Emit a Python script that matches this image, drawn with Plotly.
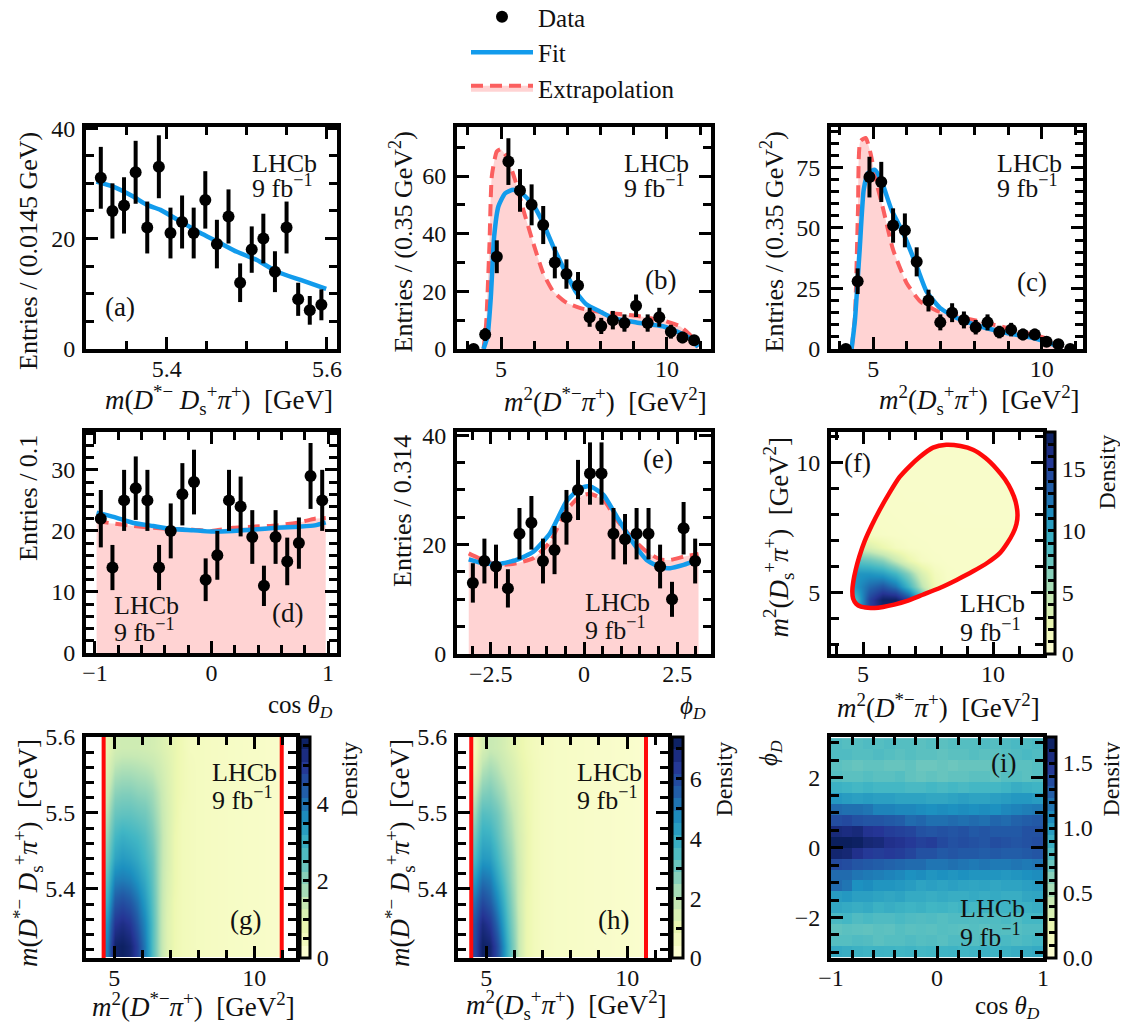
import plotly.graph_objects as go

PAGE = 8  # default page margin of the written html
W, H = 1128 - PAGE, 1023 - PAGE
FONT = "Liberation Serif"

# ---------- 1D data ----------
a_x = [5.3175, 5.332, 5.3465, 5.361, 5.3755, 5.39, 5.4045, 5.419, 5.4335, 5.448, 5.4625, 5.477, 5.4915, 5.506, 5.5205, 5.535, 5.5495, 5.564, 5.5785, 5.593]
a_y = [31, 25, 26, 32, 22, 33, 21, 23, 21, 27, 19, 24, 12, 18, 20, 14, 22, 9, 7, 8]
a_e = [5.6, 5, 5.1, 5.7, 4.7, 5.7, 4.6, 4.8, 4.6, 5.2, 4.4, 4.9, 3.5, 4.2, 4.5, 3.7, 4.7, 3, 2.6, 2.8]
a_fit_x = [5.312, 5.333, 5.358, 5.375, 5.392, 5.417, 5.442, 5.4625, 5.4875, 5.5125, 5.5375, 5.567, 5.599]
a_fit_y = [30.3, 29.4, 27.6, 26.1, 25.2, 23.1, 21, 19.5, 17.6, 16.1, 14, 12.5, 10.9]

b_x = [4.17, 4.52, 4.87, 5.22, 5.57, 5.92, 6.27, 6.62, 6.97, 7.32, 7.67, 8.02, 8.37, 8.72, 9.07, 9.42, 9.77, 10.12, 10.47, 10.82]
b_y = [0, 5, 32, 65, 55, 50, 43, 30, 26, 22, 11, 8, 10, 9, 15, 9, 11, 6, 4, 3]
b_e = [0, 2.2, 5.7, 8.1, 7.4, 7.1, 6.6, 5.5, 5.1, 4.7, 3.3, 2.8, 3.2, 3, 3.9, 3, 3.3, 2.4, 2, 1.7]
b_fit_x = [4.47, 4.59, 4.69, 4.79, 4.92, 5.12, 5.37, 5.67, 5.97, 6.27, 6.57, 6.98, 7.28, 7.58, 7.98, 8.38, 9.08, 9.88, 10.29, 10.69, 10.94]
b_fit_y = [0, 4.4, 18, 39, 49.5, 54, 55.2, 53.5, 50, 43.6, 35.6, 25.8, 19.4, 15.4, 13, 10.7, 9.2, 7.9, 6.1, 3.8, 0.7]
b_ext_x = [4.47, 4.55, 4.65, 4.72, 4.87, 4.99, 5.17, 5.42, 5.67, 5.97, 6.27, 6.57, 6.98, 7.48, 8.08, 9.08, 9.88, 10.39, 10.69, 10.94]
b_ext_y = [0, 9, 36.7, 60, 68.5, 69.3, 66.7, 58.7, 48.3, 36.7, 26.3, 20, 16, 13.9, 12.7, 11.5, 9.9, 7.9, 5, 0.7]

c_x = [4.19, 4.54, 4.89, 5.24, 5.59, 5.94, 6.29, 6.64, 6.99, 7.34, 7.69, 8.04, 8.39, 8.74, 9.09, 9.44, 9.79, 10.14, 10.49, 10.84]
c_y = [0, 28, 71, 69, 51, 49, 36, 20, 11, 15, 12, 9, 11, 7, 8, 6, 6, 3, 2, 0]
c_e = [0, 5.3, 8.4, 8.3, 7.1, 7, 6, 4.5, 3.3, 3.9, 3.5, 3, 3.3, 2.6, 2.8, 2.4, 2.4, 1.7, 1.4, 0]
c_fit_x = [4.36, 4.46, 4.6, 4.72, 4.85, 5.05, 5.25, 5.54, 5.89, 6.29, 6.58, 6.98, 7.48, 8.17, 8.96, 9.75, 10.35, 10.6]
c_fit_y = [0, 12, 41, 65.8, 72.7, 74, 69.3, 57.6, 47.9, 34.2, 23.8, 17, 12.8, 9.4, 6.6, 4.5, 1.8, 0]
c_ext_x = [4.36, 4.46, 4.55, 4.62, 4.78, 4.92, 5.1, 5.3, 5.59, 5.99, 6.39, 6.88, 7.48, 8.17, 8.96, 9.75, 10.35, 10.6]
c_ext_y = [0, 13.5, 57.6, 85.8, 87.2, 81, 68.6, 57.6, 41, 27.3, 19.7, 15.8, 13.5, 11.4, 8.7, 5.9, 3.2, 0]

d_x = [-0.95, -0.85, -0.75, -0.65, -0.55, -0.45, -0.35, -0.25, -0.15, -0.05, 0.05, 0.15, 0.25, 0.35, 0.45, 0.55, 0.65, 0.75, 0.85, 0.95]
d_y = [22, 14, 25, 27, 25, 14, 20, 26, 28, 12, 16, 25, 24, 19, 11, 19, 15, 18, 29, 25]
d_e = [4.7, 3.7, 5, 5.2, 5, 3.7, 4.5, 5.1, 5.3, 3.5, 4, 5, 4.9, 4.4, 3.3, 4.4, 3.9, 4.2, 5.4, 5]
d_fit_x = [-0.986, -0.84, -0.67, -0.5, -0.33, -0.157, 0, 0.186, 0.357, 0.557, 0.757, 0.886, 0.98]
d_fit_y = [23, 22.3, 21.3, 20.8, 20.3, 20.1, 19.9, 20, 20.2, 20.5, 20.7, 20.9, 21.4]
d_ext_y = [21.6, 21.2, 20.8, 20.5, 20.3, 20.2, 20, 20.5, 20.7, 20.9, 21.4, 22, 22.1]

e_x = [-2.98, -2.67, -2.36, -2.04, -1.73, -1.41, -1.10, -0.79, -0.47, -0.16, 0.16, 0.47, 0.79, 1.10, 1.41, 1.73, 2.04, 2.36, 2.67, 2.98]
e_y = [13, 17, 16, 12, 22, 24, 17, 19, 25, 30, 33, 33, 22, 21, 22, 22, 16, 10, 23, 17]
e_e = [3.6, 4.1, 4, 3.5, 4.7, 4.9, 4.1, 4.4, 5, 5.5, 5.7, 5.7, 4.7, 4.6, 4.7, 4.7, 4, 3.2, 4.8, 4.1]
e_fit_x = [-3.09, -2.71, -2.26, -1.81, -1.36, -0.91, -0.47, -0.11, 0.16, 0.52, 0.88, 1.33, 1.68, 2.04, 2.31, 2.67, 3.07]
e_fit_y = [17.3, 16.6, 16.5, 17.2, 18.7, 22.1, 27.9, 30.3, 30.7, 29.1, 25.1, 20.2, 17.2, 15.9, 15.7, 16.3, 17.2]
e_ext_y = [18.4, 17.2, 16.3, 16.6, 17.5, 20.5, 26.3, 28.8, 29.3, 28.2, 24.5, 20.9, 18.7, 17.3, 17.2, 17.8, 18.3]

# ---------- 2D data ----------
f_bnd_x = [8.2, 8.75, 9.23, 9.7, 10.13, 10.45, 10.7, 10.87, 10.94, 10.9, 10.77, 10.55, 10.26, 9.8, 9.23, 8.6, 7.95, 7.3, 6.67, 6.2, 5.77, 5.45, 5.19, 4.92, 4.74, 4.62, 4.59, 4.63, 4.72, 4.86, 5.06, 5.33, 5.64, 6.0, 6.41, 6.8, 7.18, 7.69, 8.2]
f_bnd_y = [10.7, 10.65, 10.51, 10.2, 9.78, 9.38, 8.95, 8.5, 8.0, 7.65, 7.3, 6.92, 6.53, 6.17, 5.83, 5.5, 5.19, 4.93, 4.68, 4.55, 4.46, 4.42, 4.43, 4.47, 4.58, 4.78, 5.06, 5.45, 5.89, 6.4, 6.98, 7.58, 8.19, 8.82, 9.46, 9.88, 10.23, 10.59, 10.7]
f_z = [
    [6, 10, 15, 17, 17, 13, 6, 1.8, 1.1, .9, .9, .9, .9, .9, .9],
    [8, 9, 15, 17.5, 17.5, 15, 9, 3, 1.1, .9, .9, .9, .9, .9, .9],
    [10, 11, 13, 14, 12.5, 9, 5, 2, 1.0, .9, .9, .9, .9, .9, .9],
    [11, 11, 11, 10.5, 9, 6.5, 3.5, 1.6, 1.0, .9, .9, .9, .9, .9, .9],
    [9, 8, 7.5, 6.5, 4.5, 2.5, 1.3, 1.0, .9, .9, .9, .9, .9, .9, .9],
    [5, 4, 3.5, 2.4, 1.5, 1.1, 1.0, .9, .9, .9, .9, .9, .9, .9, .9],
    [1.7, 1.5, 1.3, 1.1, 1.0, .95, .9, .9, .9, .9, .9, .9, .9, .9, .9],
    [1.1, 1.1, 1.0, 1.0, .95, .9, .9, .9, .9, .85, .85, .85, .85, .85, .85],
    [1.0, 1.0, .95, .95, .9, .9, .9, .85, .85, .85, .85, .85, .85, .85, .85],
    [.9, .9, .9, .9, .9, .85, .85, .85, .85, .85, .85, .85, .85, .85, .85],
    [.9, .9, .9, .85, .85, .85, .85, .85, .85, .85, .85, .85, .85, .85, .85],
    [.85, .85, .85, .85, .85, .85, .85, .85, .85, .85, .85, .85, .85, .85, .85],
    [.85, .85, .85, .85, .85, .85, .85, .85, .85, .85, .85, .85, .85, .85, .85],
    [.85, .85, .85, .85, .85, .85, .85, .85, .85, .85, .85, .85, .85, .85, .85],
]
g_limits = [4.62, 10.98]
h_limits = [4.47, 10.67]
tail_z = [.45, .42, .4, .38, .36, .35, .34, .33, .32, .3, .28, .25]
g_left = [
    [3.8, 5.5, 5.6, 5.4, 4.8, 3.9, 2.7, 1.7, 1.0, .7, .55, .5],
    [3.5, 5.0, 5.2, 5.0, 4.4, 3.7, 2.7, 1.7, 1.0, .7, .55, .5],
    [3.0, 4.4, 4.6, 4.4, 4.0, 3.4, 2.6, 1.7, 1.05, .7, .55, .5],
    [2.6, 3.8, 3.9, 3.8, 3.5, 3.1, 2.5, 1.7, 1.1, .75, .55, .5],
    [2.2, 3.2, 3.4, 3.3, 3.1, 2.8, 2.4, 1.7, 1.15, .75, .55, .5],
    [1.9, 2.8, 3.0, 2.9, 2.8, 2.6, 2.2, 1.7, 1.15, .75, .55, .5],
    [1.6, 2.4, 2.5, 2.5, 2.4, 2.3, 2.0, 1.6, 1.15, .8, .55, .5],
    [1.3, 2.0, 2.1, 2.1, 2.0, 1.95, 1.8, 1.5, 1.1, .8, .6, .5],
    [1.0, 1.6, 1.7, 1.7, 1.65, 1.6, 1.5, 1.3, 1.05, .8, .6, .5],
    [.8, 1.2, 1.3, 1.3, 1.3, 1.25, 1.2, 1.1, .95, .8, .6, .45],
]
h_left = [
    [6.0, 7.2, 7.0, 6.0, 4.6, 3.1, 1.8, 1.0, .7, .55, .5, .45],
    [5.8, 6.8, 6.4, 5.4, 4.2, 2.9, 1.8, 1.0, .7, .55, .5, .45],
    [5.2, 6.0, 5.6, 4.8, 3.8, 2.7, 1.7, 1.0, .7, .55, .5, .45],
    [4.4, 5.2, 5.0, 4.2, 3.4, 2.5, 1.7, 1.05, .7, .55, .5, .45],
    [3.6, 4.4, 4.3, 3.7, 3.0, 2.4, 1.6, 1.05, .7, .55, .5, .45],
    [3.0, 3.9, 3.8, 3.3, 2.7, 2.2, 1.5, 1.05, .7, .55, .5, .45],
    [2.4, 3.4, 3.3, 3.0, 2.5, 2.0, 1.4, 1.0, .7, .55, .5, .45],
    [1.8, 2.7, 2.8, 2.5, 2.2, 1.7, 1.3, .95, .7, .55, .5, .45],
    [1.0, 2.1, 2.3, 2.1, 1.8, 1.5, 1.15, .9, .7, .55, .5, .45],
    [.6, 1.5, 1.8, 1.7, 1.5, 1.25, 1.0, .8, .65, .55, .5, .45],
]
i_z = [
    [.92, .90, .88, .86, .87, .86, .85, .86, .84, .85, .86, .87, .85, .86, .88, .87, .88, .90, .90, .92],
    [.78, .78, .80, .79, .76, .78, .78, .80, .78, .79, .77, .80, .80, .78, .80, .79, .82, .80, .82, .84],
    [.74, .76, .75, .74, .76, .75, .78, .76, .77, .76, .78, .77, .76, .78, .76, .79, .78, .78, .80, .80],
    [.82, .84, .80, .82, .80, .80, .82, .80, .79, .80, .78, .80, .80, .79, .80, .80, .82, .80, .84, .84],
    [.94, .92, .90, .92, .88, .90, .88, .86, .88, .85, .86, .84, .86, .84, .86, .85, .86, .88, .88, .90],
    [1.00, 1.02, .98, .98, .96, .94, .96, .92, .92, .90, .92, .90, .90, .92, .90, .92, .90, .90, .94, .95],
    [1.22, 1.18, 1.06, 1.08, 1.04, 1.04, 1.02, 1.00, .96, .98, .96, .98, .96, .95, .96, .94, .96, .96, .98, 1.00],
    [1.22, 1.22, 1.18, 1.16, 1.14, 1.12, 1.10, 1.06, 1.08, 1.04, 1.06, 1.04, 1.06, 1.04, 1.04, 1.04, 1.02, 1.04, 1.06, 1.08],
    [1.38, 1.36, 1.32, 1.30, 1.28, 1.26, 1.24, 1.22, 1.22, 1.18, 1.18, 1.20, 1.18, 1.16, 1.18, 1.16, 1.16, 1.18, 1.16, 1.18],
    [1.62, 1.60, 1.52, 1.46, 1.44, 1.46, 1.44, 1.40, 1.34, 1.34, 1.30, 1.32, 1.30, 1.30, 1.28, 1.30, 1.28, 1.28, 1.30, 1.32],
    [1.68, 1.68, 1.66, 1.60, 1.58, 1.52, 1.50, 1.46, 1.42, 1.44, 1.38, 1.34, 1.36, 1.34, 1.32, 1.36, 1.34, 1.32, 1.34, 1.36],
    [1.58, 1.56, 1.58, 1.50, 1.48, 1.44, 1.42, 1.40, 1.34, 1.32, 1.34, 1.32, 1.34, 1.30, 1.32, 1.30, 1.30, 1.30, 1.34, 1.34],
    [1.36, 1.38, 1.34, 1.32, 1.32, 1.30, 1.28, 1.22, 1.24, 1.20, 1.20, 1.22, 1.20, 1.22, 1.20, 1.24, 1.22, 1.26, 1.28, 1.30],
    [1.22, 1.20, 1.20, 1.18, 1.12, 1.12, 1.10, 1.10, 1.08, 1.06, 1.08, 1.06, 1.08, 1.06, 1.08, 1.06, 1.10, 1.12, 1.14, 1.16],
    [1.02, 1.00, .98, 1.00, .98, .98, .96, .96, .96, .94, .94, .96, .98, .96, .96, .98, 1.00, 1.02, 1.02, 1.00],
    [.88, .86, .84, .86, .84, .84, .84, .82, .82, .84, .82, .84, .82, .84, .84, .84, .86, .90, .88, .86],
    [.78, .76, .76, .78, .76, .76, .78, .74, .72, .74, .72, .74, .74, .76, .76, .74, .78, .78, .76, .78],
    [.76, .74, .72, .74, .74, .72, .72, .74, .70, .70, .72, .70, .72, .72, .72, .74, .74, .76, .76, .78],
    [.80, .80, .78, .78, .80, .78, .76, .78, .76, .76, .74, .76, .76, .78, .76, .76, .78, .80, .82, .80],
    [.80, .78, .78, .80, .78, .80, .78, .78, .76, .78, .76, .78, .78, .78, .80, .78, .80, .82, .80, .82],
]

# ---------- axis text ----------
XLABELS = {
    "a": "<i>m</i>(<i>D</i><sup>*−</sup> <i>D</i><sub>s</sub><sup>+</sup><i>π</i><sup>+</sup>)  [GeV]",
    "b": "<i>m</i><sup>2</sup>(<i>D</i><sup>*−</sup><i>π</i><sup>+</sup>)  [GeV<sup>2</sup>]",
    "c": "<i>m</i><sup>2</sup>(<i>D</i><sub>s</sub><sup>+</sup><i>π</i><sup>+</sup>)  [GeV<sup>2</sup>]",
    "d": "cos <i>θ<sub>D</sub></i>",
    "e": "<i>ϕ<sub>D</sub></i>",
}
XLABELS.update({"f": XLABELS["b"], "g": XLABELS["b"], "h": XLABELS["c"], "i": XLABELS["d"]})
YLABELS = {
    "a": "Entries / (0.0145 GeV)",
    "b": "Entries / (0.35 GeV<sup>2</sup>)",
    "c": "Entries / (0.35 GeV<sup>2</sup>)",
    "d": "Entries / 0.1",
    "e": "Entries / 0.314",
    "f": XLABELS["c"],
    "g": XLABELS["a"],
    "h": XLABELS["a"],
    "i": XLABELS["e"],
}

# ---------- geometry (page pixels) and axis settings ----------
P = {
    "a": dict(box=(86, 337, 127, 349), xr=(5.299, 5.6125), yr=(0, 40.2), xt=(5.4, 0.2, 0.05), yt=(0, 20, 5),
              xl=(335, 400), yl=(28, 130), lhcb=(250, 163, 187), tag=(120, 307)),
    "b": dict(box=(457, 711, 127, 349), xr=(3.67, 11.33), yr=(0, 77), xt=(5, 5, 1), yt=(0, 20, 10),
              xl=(709, 400), yl=(402, 130), lhcb=(622, 163, 187), tag=(660, 280)),
    "c": dict(box=(831, 1083, 127, 349), xr=(3.75, 11.22), yr=(0, 91.7), xt=(5, 5, 1), yt=(0, 25, 5),
              xl=(1082, 400), yl=(773, 130), lhcb=(995, 163, 187), tag=(1032, 282)),
    "d": dict(box=(86, 337, 432, 653), xr=(-1.077, 1.077), yr=(0, 36.2), xt=(-1, 1, 0.2), yt=(0, 10, 2),
              xl=(335, 706), yl=(28, 433), lhcb=(112, 605, 630), tag=(287, 613)),
    "e": dict(box=(457, 711, 432, 654), xr=(-3.405, 3.405), yr=(0, 40.6), xt=(-2.5, 2.5, 0.5), yt=(0, 20, 5),
              xl=(708, 707), yl=(402, 433), lhcb=(583, 602, 628), tag=(658, 459)),
    "f": dict(box=(831, 1043, 432, 654), xr=(3.77, 11.92), yr=(2.65, 11.19), xt=(5, 5, 1), yt=(5, 5, 1),
              xl=(1042, 706), yl=(778, 435), lhcb=(958, 603, 630), tag=(857, 463),
              cb=(1045, 1055), cbt=(0, 18, 1, 5), dens=(1106, 433)),
    "g": dict(box=(86, 296, 737, 958), xr=(3.99, 11.49), yr=(5.309, 5.6), xt=(5, 5, 1), yt=(5.4, 0.1, 0.02),
              xl=(297, 1005), yl=(28, 737), lhcb=(210, 772, 798), tag=(245, 920),
              cb=(300, 310), cbt=(0, 5.73, 0.5, 2), dens=(348, 740)),
    "h": dict(box=(458, 668, 737, 958), xr=(4.0, 11.45), yr=(5.309, 5.6), xt=(5, 5, 1), yt=(5.4, 0.1, 0.02),
              xl=(669, 1005), yl=(400, 737), lhcb=(575, 772, 798), tag=(613, 920),
              cb=(672, 683), cbt=(0, 7.39, 1, 2), dens=(723, 740)),
    "i": dict(box=(831, 1043, 737, 958), xr=(-1, 1), yr=(-3.16, 3.17), xt=(-1, 1, 0.2), yt=(-2, 2, 0.5),
              xl=(1042, 1007), yl=(770, 738), lhcb=(958, 908, 935), tag=(1003, 763),
              cb=(1046, 1056), cbt=(0, 1.7, 0.1, 0.5), dens=(1110, 740)),
}
BLUE, RED, PINK = "#129BEC", "#FB5F5F", "#FFD3D3"
ANCH = ["#ffffd9", "#edf8b1", "#c7e9b4", "#7fcdbb", "#41b6c4", "#1d91c0", "#225ea8", "#253494", "#081d58"]
LEVELS = 18


def hex2rgb(s):
    return tuple(int(s[i:i + 2], 16) for i in (1, 3, 5))


def cmap(t):
    u = t * (len(ANCH) - 1)
    k = min(int(u), len(ANCH) - 2)
    f = u - k
    a, b = hex2rgb(ANCH[k]), hex2rgb(ANCH[k + 1])
    return "rgb(%d,%d,%d)" % tuple(round(a[j] + (b[j] - a[j]) * f) for j in range(3))


STEPS = []
for n in range(LEVELS):
    col = cmap((n + 0.5) / LEVELS)
    STEPS += [[n / LEVELS, col], [(n + 1) / LEVELS, col]]
SMOOTH = [[k / (len(ANCH) - 1), c] for k, c in enumerate(ANCH)]


def fx(x):
    return (x - PAGE) / W


def fy(y):
    return 1 - (y - PAGE) / H


fig = go.Figure()
annotations = []
layout = {}


def note(text, x, y, xa="center", ya="middle", angle=0, size=25):
    annotations.append(dict(text=text, x=fx(x), y=fy(y), xref="paper", yref="paper", xanchor=xa, yanchor=ya,
                            textangle=angle, showarrow=False, font=dict(family=FONT, size=size, color="#111"),
                            align="left"))


for idx, (key, p) in enumerate(P.items()):
    n = idx + 1
    l, r, t, b = p["box"]
    common = dict(showline=True, linecolor="black", linewidth=4, mirror="allticks", ticks="inside", ticklen=12,
                  tickwidth=3, tickcolor="black", showgrid=False, zeroline=False,
                  tickfont=dict(family=FONT, size=24, color="#111"), layer="above traces")
    minor = dict(ticks="inside", ticklen=8, tickwidth=2.5, tickcolor="black", showgrid=False)
    layout[f"xaxis{n}"] = dict(common, domain=[fx(l), fx(r)], range=list(p["xr"]), anchor=f"y{n}", tickmode="linear",
                               tick0=p["xt"][0], dtick=p["xt"][1], ticklabelstandoff=-5,
                               minor=dict(minor, tick0=p["xt"][0], dtick=p["xt"][2]))
    layout[f"yaxis{n}"] = dict(common, domain=[fy(b), fy(t)], range=list(p["yr"]), anchor=f"x{n}",
                               tickmode="linear", tick0=p["yt"][0], dtick=p["yt"][1], ticklabelstandoff=2,
                               minor=dict(minor, tick0=p["yt"][0], dtick=p["yt"][2]))
    xsize = 25 if key in "dei" else 27
    ysize = 26 if key in "abcde" else (25 if key == "i" else 27)
    note(XLABELS[key], p["xl"][0], p["xl"][1], xa="right", size=xsize)
    note(YLABELS[key], p["yl"][0], p["yl"][1], ya="top", angle=-90, size=ysize)
    note("LHCb", p["lhcb"][0], p["lhcb"][1], xa="left", size=26)
    note("9 fb<sup>−1</sup>", p["lhcb"][0], p["lhcb"][2], xa="left", size=26)
    note(f"({key})", p["tag"][0], p["tag"][1], size=27)
    if "dens" in p:
        note("Density", p["dens"][0], p["dens"][1], ya="top", angle=-90, size=24)


def bar(key):
    p = P[key]
    lo, hi, step, major = p["cbt"]
    vals, text = [], []
    m = 0
    while lo + m * step <= hi + 1e-9:
        v = round(lo + m * step, 6)
        vals.append(v)
        is_major = abs(v / major - round(v / major)) < 1e-6
        text.append(("%.1f" % v if key == "i" else "%d" % v) if is_major else "")
        m += 1
    x0, x1 = p["cb"]
    _, _, t, b = p["box"]
    return dict(x=fx(x0), xanchor="left", xref="paper", y=fy(b), yanchor="bottom", yref="paper", len=(b - t) / H,
                lenmode="fraction", thickness=x1 - x0, thicknessmode="pixels", xpad=0, ypad=0,
                outlinecolor="black", outlinewidth=3, ticks="inside", ticklen=8, tickwidth=2.5, tickcolor="black",
                tickmode="array", tickvals=vals, ticktext=text,
                tickfont=dict(family=FONT, size=24, color="#111"), borderwidth=0)


def stepped_bar(key, n):
    # scale shown beside the panel: off-range cell, carries only the stepped colour bar
    p = P[key]
    hi = p["cbt"][1]
    fig.add_trace(go.Heatmap(z=[[0, hi]], x=[p["xr"][1] + 50, p["xr"][1] + 51], y=[p["yr"][1] + 50], zmin=0, zmax=hi,
                             colorscale=STEPS, colorbar=bar(key), xaxis=f"x{n}", yaxis=f"y{n}", hoverinfo="skip"))


def hist(key, n, x, y, e, fit_x, fit_y, ext_x=None, ext_y=None, legend=False):
    xa, ya = f"x{n}", f"y{n}"
    if ext_x is not None:
        fig.add_trace(go.Scatter(x=ext_x, y=ext_y, mode="lines", fill="tozeroy", fillcolor=PINK, name="Extrapolation",
                                 line=dict(color=RED, width=4, dash="12px,7px", shape="spline", smoothing=0.5),
                                 xaxis=xa, yaxis=ya, showlegend=legend, legendrank=3))
    fig.add_trace(go.Scatter(x=fit_x, y=fit_y, mode="lines", name="Fit",
                             line=dict(color=BLUE, width=4.5, shape="spline", smoothing=0.5),
                             xaxis=xa, yaxis=ya, showlegend=legend, legendrank=2))
    fig.add_trace(go.Scatter(x=x, y=y, mode="markers", name="Data", marker=dict(color="black", size=12),
                             error_y=dict(type="data", array=e, color="black", thickness=4, width=0),
                             xaxis=xa, yaxis=ya, showlegend=legend, legendrank=1))


hist("a", 1, a_x, a_y, a_e, a_fit_x, a_fit_y)
hist("b", 2, b_x, b_y, b_e, b_fit_x, b_fit_y, b_ext_x, b_ext_y, legend=True)
hist("c", 3, c_x, c_y, c_e, c_fit_x, c_fit_y, c_ext_x, c_ext_y)
hist("d", 4, d_x, d_y, d_e, d_fit_x, d_fit_y, d_fit_x, d_ext_y)
hist("e", 5, e_x, e_y, e_e, e_fit_x, e_fit_y, e_fit_x, e_ext_y)

# (f)
stepped_bar("f", 6)
fig.add_trace(go.Heatmap(z=f_z, x0=4.25, dx=0.5, y0=4.25, dy=0.5, zmin=0, zmax=18, colorscale=SMOOTH, zsmooth="best",
                         showscale=False, xaxis="x6", yaxis="y6"))
rx, ry = P["f"]["xr"], P["f"]["yr"]
# white surround of the allowed region (opposite winding leaves it open)
fig.add_trace(go.Scatter(x=f_bnd_x + [rx[0], rx[0], rx[1], rx[1], rx[0]],
                         y=f_bnd_y + [ry[1], ry[0], ry[0], ry[1], ry[1]],
                         mode="none", fill="toself", fillcolor="white", xaxis="x6", yaxis="y6", showlegend=False,
                         hoverinfo="skip"))
fig.add_trace(go.Scatter(x=f_bnd_x, y=f_bnd_y, mode="lines",
                         line=dict(color="#FF0A0A", width=4.5, shape="spline", smoothing=0.6),
                         xaxis="x6", yaxis="y6", showlegend=False))

# (g), (h)
for key, n, left, lim, zmax in (("g", 7, g_left, g_limits, 5.73), ("h", 8, h_left, h_limits, 7.39)):
    z = [row + tail_z for row in left]
    dx = (lim[1] - lim[0]) / 24
    stepped_bar(key, n)
    fig.add_trace(go.Heatmap(z=z, x0=lim[0] + dx / 2, dx=dx, y0=5.3245, dy=0.029, zmin=0, zmax=zmax, colorscale=SMOOTH,
                             zsmooth="best", showscale=False, xaxis=f"x{n}", yaxis=f"y{n}"))
    for v in lim:
        fig.add_trace(go.Scatter(x=[v, v], y=[5.309, 5.6], mode="lines", line=dict(color="#FF0A0A", width=4),
                                 xaxis=f"x{n}", yaxis=f"y{n}", showlegend=False))

# (i)
stepped_bar("i", 9)
fig.add_trace(go.Heatmap(z=i_z, x0=-0.95, dx=0.1, y0=-2.985, dy=0.314, zmin=0, zmax=1.7, colorscale=SMOOTH,
                         showscale=False, xaxis="x9", yaxis="y9"))

fig.update_layout(width=W, height=H, margin=dict(l=0, r=0, t=0, b=0, autoexpand=False), paper_bgcolor="white",
                  plot_bgcolor="white", annotations=annotations,
                  legend=dict(x=fx(466), xanchor="left", y=fy(-6), yanchor="top", bgcolor="rgba(0,0,0,0)",
                              font=dict(family=FONT, size=25, color="#111"), itemwidth=62),
                  **layout)
fig.write_html("out.html", config={"displayModeBar": False})
